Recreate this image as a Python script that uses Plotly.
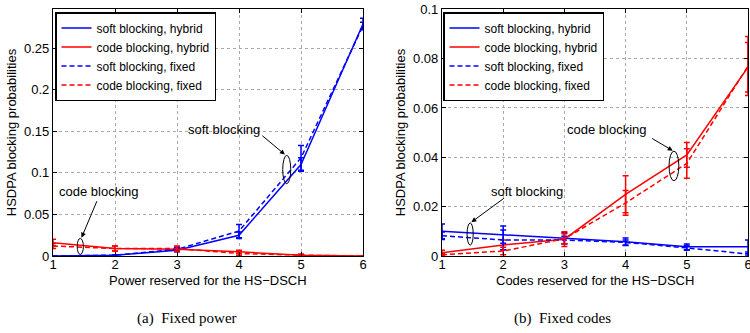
import plotly.graph_objects as go

x_vals = [1, 2, 3, 4, 5, 6]

# (a) Fixed power
a_soft_hybrid = [0.0, 0.001, 0.007, 0.025, 0.110, 0.279]
a_soft_hybrid_err = [0.0, 0.0005, 0.002, 0.004, 0.008, 0.007]
a_code_hybrid = [0.016, 0.009, 0.008, 0.005, 0.001, 0.0]
a_code_hybrid_err = [0.004, 0.003, 0.003, 0.002, 0.001, 0.0]
a_soft_fixed = [0.0, 0.001, 0.008, 0.030, 0.118, 0.277]
a_soft_fixed_err = [0.0, 0.0005, 0.002, 0.008, 0.015, 0.004]
a_code_fixed = [0.012, 0.009, 0.009, 0.003, 0.001, 0.0]
a_code_fixed_err = [0.003, 0.003, 0.003, 0.002, 0.001, 0.0]

# (b) Fixed codes
b_soft_hybrid = [0.0100, 0.0087, 0.0072, 0.0058, 0.0037, 0.0037]
b_soft_hybrid_err = [0.003, 0.0035, 0.0022, 0.0015, 0.0012, 0.0028]
b_code_hybrid = [0.0013, 0.0045, 0.0068, 0.025, 0.041, 0.0765]
b_code_hybrid_err = [0.001, 0.002, 0.003, 0.0075, 0.005, 0.010]
b_soft_fixed = [0.0082, 0.0065, 0.0065, 0.0055, 0.0033, 0.0008]
b_soft_fixed_err = [0.0015, 0.004, 0.0015, 0.001, 0.001, 0.0008]
b_code_fixed = [0.0005, 0.0020, 0.0070, 0.0215, 0.0375, 0.077]
b_code_fixed_err = [0.0005, 0.0015, 0.002, 0.005, 0.006, 0.012]

a_yticks = [0, 0.05, 0.1, 0.15, 0.2, 0.25]
a_yticklabels = ["0", "0.05", "0.1", "0.15", "0.2", "0.25"]
b_yticks = [0, 0.02, 0.04, 0.06, 0.08, 0.1]
b_yticklabels = ["0", "0.02", "0.04", "0.06", "0.08", "0.1"]

names = ["soft blocking, hybrid", "code blocking, hybrid",
         "soft blocking, fixed", "code blocking, fixed"]
colors = ["#0000ff", "#ff0000", "#0000ff", "#ff0000"]
dashes = ["solid", "solid", "5px,3px", "5px,3px"]

FONT = "Liberation Sans, Arial, sans-serif"
SERIF = "Liberation Serif, Times New Roman, serif"
W, H = 750, 333
fig = go.Figure()

def add_set(series, errs, xa, ya, legend):
    for i in range(4):
        fig.add_trace(go.Scatter(
            x=x_vals, y=series[i], mode="lines", name=names[i],
            line=dict(color=colors[i], width=1.5, dash=dashes[i]),
            error_y=dict(type="data", array=errs[i], color=colors[i],
                         thickness=1.5, width=3, visible=True),
            xaxis=xa, yaxis=ya, legend=legend))

add_set([a_soft_hybrid, a_code_hybrid, a_soft_fixed, a_code_fixed],
        [a_soft_hybrid_err, a_code_hybrid_err, a_soft_fixed_err, a_code_fixed_err],
        "x", "y", "legend")
add_set([b_soft_hybrid, b_code_hybrid, b_soft_fixed, b_code_fixed],
        [b_soft_hybrid_err, b_code_hybrid_err, b_soft_fixed_err, b_code_fixed_err],
        "x2", "y2", "legend2")

ax_common = dict(showline=True, linecolor="black", linewidth=1.3, mirror="ticks",
                 ticks="inside", ticklen=4, tickcolor="black", automargin=False,
                 showgrid=True, gridcolor="#aaaaaa", griddash="dot", gridwidth=1,
                 zeroline=False, ticklabeloverflow="allow",
                 tickfont=dict(family=FONT, size=13, color="black"))

def px_x(p):  # window pixel -> paper fraction (body margin removed below)
    return p / W

def px_y(p):
    return 1 - p / H

ydom = [px_y(256), px_y(9)]
fig.update_layout(
    width=W, height=H, margin=dict(l=0, r=0, t=0, b=0),
    paper_bgcolor="white", plot_bgcolor="white",
    font=dict(family=FONT, size=13, color="black"),
    xaxis=dict(domain=[px_x(53), px_x(363)], range=[1, 6], dtick=1, anchor="y",
               ticklabelstandoff=-4, **ax_common),
    yaxis=dict(domain=ydom, range=[0, 0.297], tickvals=a_yticks,
               ticktext=a_yticklabels, anchor="x",
               title=dict(text="HSDPA blocking probabilities", standoff=4,
                          font=dict(size=13)), **ax_common),
    xaxis2=dict(domain=[px_x(442), px_x(748)], range=[1, 6], dtick=1, anchor="y2",
                ticklabelstandoff=-4, **ax_common),
    yaxis2=dict(domain=ydom, range=[0, 0.1001], tickvals=b_yticks,
                ticktext=b_yticklabels, anchor="x2",
                title=dict(text="HSDPA blocking probabilities", standoff=4,
                           font=dict(size=13)), **ax_common),
    legend=dict(x=px_x(55), y=px_y(12), xanchor="left", yanchor="top",
                bgcolor="white", bordercolor="black", borderwidth=1.5,
                font=dict(family=FONT, size=12), tracegroupgap=0,
                itemwidth=30),
    legend2=dict(x=px_x(443), y=px_y(12), xanchor="left", yanchor="top",
                 bgcolor="white", bordercolor="black", borderwidth=1.5,
                 font=dict(family=FONT, size=12), tracegroupgap=0,
                 itemwidth=30),
)

def paper_text(x, y, text, family, size):
    fig.add_annotation(xref="paper", yref="paper", x=px_x(x), y=px_y(y),
                       xanchor="center", yanchor="middle", text=text,
                       showarrow=False, font=dict(family=family, size=size))

# x-axis titles
paper_text(208, 280, "Power reserved for the HS\u2212DSCH", FONT, 13)
paper_text(595, 280, "Codes reserved for the HS\u2212DSCH", FONT, 13)
# captions
paper_text(187, 318, "(a)  Fixed power", SERIF, 15)
paper_text(562, 318, "(b)  Fixed codes", SERIF, 15)

# ellipses
def ellipse(xr, yr, cx, cy, hw, hh):
    fig.add_shape(type="circle", xref=xr, yref=yr, x0=cx - hw, x1=cx + hw,
                  y0=cy - hh, y1=cy + hh, line=dict(color="black", width=1))

ellipse("x", "y", 4.77, 0.104, 0.065, 0.017)
ellipse("x", "y", 1.44, 0.0115, 0.05, 0.0096)
ellipse("x2", "y2", 4.79, 0.0365, 0.08, 0.006)
ellipse("x2", "y2", 1.46, 0.0089, 0.05, 0.0045)

def label(xr, yr, x, y, text):
    fig.add_annotation(xref=xr, yref=yr, x=x, y=y, text=text, showarrow=False,
                       xanchor="center", yanchor="middle",
                       font=dict(family=FONT, size=13, color="black"))

def arrow(xr, yr, x, y, ax, ay):
    fig.add_annotation(xref=xr, yref=yr, x=x, y=y, ax=ax, ay=ay, text="",
                       showarrow=True, arrowhead=2, arrowsize=1, arrowwidth=1,
                       arrowcolor="black", standoff=0)

label("x", "y", 3.75, 0.152, "soft blocking")
arrow("x", "y", 4.74, 0.122, -24, -20)
label("x", "y", 1.74, 0.078, "code blocking")
arrow("x", "y", 1.46, 0.022, 16, -38)
label("x2", "y2", 3.70, 0.0514, "code blocking")
arrow("x2", "y2", 4.77, 0.0427, -22, -13)
label("x2", "y2", 2.39, 0.0263, "soft blocking")
arrow("x2", "y2", 1.48, 0.0137, 34, -25)

fig.write_html("out.html", config={"displayModeBar": False},
               post_script="document.body.style.margin='0';"
                           "document.body.style.overflow='hidden';")
